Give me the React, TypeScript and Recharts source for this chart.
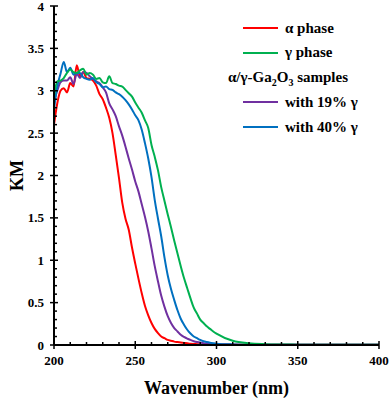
import React from 'react';
import { LineChart, Line, XAxis, YAxis, Legend } from 'recharts';

const wavelengths = [
  200, 202, 204, 206, 208, 210, 212, 214, 216, 218, 220, 222, 224, 226, 228, 230, 232, 234, 236, 238,
  240, 242, 244, 246, 248, 250, 252, 254, 256, 258, 260, 262, 264, 266, 268, 270, 272, 274, 276, 278,
  280, 282, 284, 286, 288, 290, 292, 294, 296, 298, 300, 310, 320, 330, 340, 350, 360, 370, 380, 390, 400,
];

const alphaPhase = [
  2.60, 2.85, 3.00, 3.03, 2.98, 3.09, 3.05, 3.30, 3.17, 3.22, 3.15, 3.14, 3.12, 3.06, 2.96, 2.90, 2.80, 2.68, 2.50, 2.24,
  1.97, 1.68, 1.49, 1.36, 1.15, 0.96, 0.78, 0.61, 0.46, 0.35, 0.26, 0.19, 0.14, 0.10, 0.08, 0.06, 0.05, 0.04, 0.035, 0.03,
  0.025, 0.02, 0.015, 0.012, 0.01, 0.008, 0.006, 0.005, 0.005, 0.005, 0.005, 0.004, 0.004, 0.004, 0.004, 0.004, 0.004, 0.004, 0.004, 0.004, 0.004,
];

const gammaPhase = [
  2.93, 3.11, 3.12, 3.15, 3.21, 3.25, 3.22, 3.21, 3.24, 3.26, 3.19, 3.21, 3.19, 3.14, 3.15, 3.10, 3.09, 3.17, 3.09, 3.08,
  3.06, 3.05, 3.01, 2.97, 2.93, 2.86, 2.80, 2.74, 2.65, 2.56, 2.36, 2.22, 2.06, 1.86, 1.70, 1.54, 1.39, 1.23, 1.08, 0.93,
  0.79, 0.67, 0.55, 0.44, 0.37, 0.30, 0.26, 0.22, 0.19, 0.16, 0.135, 0.05, 0.02, 0.01, 0.006, 0.004, 0.003, 0.003, 0.003, 0.003, 0.003,
];

const gamma19 = [
  2.88, 3.00, 3.10, 3.12, 3.12, 3.16, 3.08, 3.20, 3.15, 3.22, 3.21, 3.17, 3.14, 3.11, 3.09, 3.04, 2.98, 2.85, 2.78, 2.70,
  2.58, 2.47, 2.34, 2.20, 2.07, 1.93, 1.81, 1.66, 1.51, 1.34, 1.14, 0.93, 0.75, 0.58, 0.45, 0.34, 0.26, 0.20, 0.16, 0.12,
  0.095, 0.075, 0.06, 0.045, 0.035, 0.03, 0.022, 0.017, 0.013, 0.01, 0.008, 0.005, 0.003, 0.002, 0.002, 0.002, 0.002, 0.002, 0.002, 0.002, 0.002,
];

const gamma40 = [
  2.78, 3.05, 3.20, 3.34, 3.22, 3.27, 3.19, 3.21, 3.21, 3.16, 3.14, 3.13, 3.15, 3.10, 3.08, 3.04, 3.05, 3.02, 3.01, 2.98,
  2.96, 2.93, 2.89, 2.84, 2.78, 2.71, 2.65, 2.54, 2.38, 2.20, 1.98, 1.71, 1.49, 1.28, 1.03, 0.82, 0.66, 0.53, 0.41, 0.31,
  0.24, 0.18, 0.135, 0.10, 0.08, 0.06, 0.045, 0.035, 0.027, 0.021, 0.016, 0.007, 0.004, 0.003, 0.002, 0.002, 0.002, 0.002, 0.002, 0.002, 0.002,
];

const xTicks = [200, 210, 220, 230, 240, 250, 260, 270, 280, 290, 300, 310, 320, 330, 340, 350, 360, 370, 380, 390, 400];
const xLabelTicks = [200, 250, 300, 350, 400];
const yMinorTicks = Array.from({ length: 41 }, (_, i) => i / 10);
const yLabelTicks = [0, 0.5, 1, 1.5, 2, 2.5, 3, 3.5, 4];

const data = wavelengths.map((x, i) => ({
  x,
  alpha: alphaPhase[i],
  gamma: gammaPhase[i],
  g19: gamma19[i],
  g40: gamma40[i],
}));

const FONT = "'Liberation Serif', 'Times New Roman', serif";

const XTick = (props: any) => {
  const { x, y, payload } = props;
  const v = payload.value;
  const major = xLabelTicks.includes(v);
  return (
    <g>
      <line x1={x} x2={x} y1={y - (major ? 4 : 3)} y2={y + (major ? 4 : 0)} stroke="#000" strokeWidth={1.5} />
      {major && (
        <text x={x} y={y + 20} textAnchor="middle" fontFamily={FONT} fontWeight="bold" fontSize={13} fill="#000">
          {v}
        </text>
      )}
    </g>
  );
};

const YTick = (props: any) => {
  const { x, y, payload } = props;
  const v = payload.value;
  const major = yLabelTicks.some((t) => Math.abs(t - v) < 1e-6);
  return (
    <g>
      <line x1={x - (major ? 4 : 0)} x2={x + (major ? 4 : 3)} y1={y} y2={y} stroke="#000" strokeWidth={1.5} />
      {major && (
        <text x={x - 10} y={y + 4.5} textAnchor="end" fontFamily={FONT} fontWeight="bold" fontSize={13} fill="#000">
          {String(Number(v.toFixed(1)))}
        </text>
      )}
    </g>
  );
};

const seriesLegend = [
  { name: 'α phase', color: '#FF0000' },
  { name: 'γ phase', color: '#00B050' },
];
const sampleLegend = [
  { name: 'with 19% γ', color: '#7030A0' },
  { name: 'with 40% γ', color: '#0070C0' },
];

const LegendRow = ({ name, color }: { name: string; color: string }) => (
  <div style={{ height: 24.75, display: 'flex', alignItems: 'center', whiteSpace: 'nowrap' }}>
    <span style={{ display: 'inline-block', width: 35, height: 2, background: color, marginLeft: 15, marginRight: 7 }} />
    <span>{name}</span>
  </div>
);

const renderLegend = () => (
  <div style={{ fontFamily: FONT, fontWeight: 'bold', fontSize: 15, color: '#000', lineHeight: '24.75px' }}>
    {seriesLegend.map((s) => (
      <LegendRow key={s.name} {...s} />
    ))}
    <div style={{ height: 24.75, display: 'flex', alignItems: 'center', whiteSpace: 'nowrap' }}>
      <span>
        α/γ-Ga<sub style={{ fontSize: 10, lineHeight: 0 }}>2</sub>O<sub style={{ fontSize: 10, lineHeight: 0 }}>3</sub> samples
      </span>
    </div>
    {sampleLegend.map((s) => (
      <LegendRow key={s.name} {...s} />
    ))}
  </div>
);

export default function App() {
  return (
    <div style={{ position: 'absolute', left: 0, top: 0, width: 390, height: 398, background: '#fff' }}>
      <LineChart width={390} height={398} data={data} margin={{ top: 6, right: 11, bottom: 0, left: 0 }}>
        <XAxis
          dataKey="x"
          type="number"
          domain={[200, 400]}
          ticks={xTicks}
          interval={0}
          height={53}
          tickSize={0}
          tickMargin={0}
          tickLine={false}
          tick={<XTick />}
          axisLine={{ stroke: '#000', strokeWidth: 2 }}
          label={{
            content: () => (
              <text x={216.5} y={393.5} textAnchor="middle" fontFamily={FONT} fontWeight="bold" fontSize={18} fill="#000">
                Wavenumber (nm)
              </text>
            ),
          }}
        />
        <XAxis
          xAxisId="top"
          orientation="top"
          type="number"
          domain={[200, 400]}
          height={0}
          tick={false}
          tickLine={false}
          axisLine={{ stroke: '#404040', strokeWidth: 2 }}
        />
        <YAxis
          type="number"
          domain={[0, 4]}
          ticks={yMinorTicks}
          interval={0}
          width={54}
          tickSize={0}
          tickMargin={0}
          tickLine={false}
          tick={<YTick />}
          axisLine={{ stroke: '#000', strokeWidth: 2 }}
          label={{
            content: () => (
              <text
                transform="translate(23,175.5) rotate(-90)"
                textAnchor="middle"
                fontFamily={FONT}
                fontWeight="bold"
                fontSize={18}
                fill="#000"
              >
                KM
              </text>
            ),
          }}
        />
        <YAxis
          yAxisId="right"
          orientation="right"
          type="number"
          domain={[0, 4]}
          width={0}
          tick={false}
          tickLine={false}
          axisLine={{ stroke: '#404040', strokeWidth: 2 }}
        />
        <Legend
          layout="vertical"
          align="center"
          verticalAlign="middle"
          content={renderLegend}
          wrapperStyle={{ left: 228, top: 15.6, width: 'auto', height: 'auto' }}
        />
        <Line type="monotone" dataKey="alpha" name="α phase" stroke="#FF0000" strokeWidth={2} dot={false} isAnimationActive={false} />
        <Line type="monotone" dataKey="g19" name="with 19% γ" stroke="#7030A0" strokeWidth={2} dot={false} isAnimationActive={false} />
        <Line type="monotone" dataKey="g40" name="with 40% γ" stroke="#0070C0" strokeWidth={2} dot={false} isAnimationActive={false} />
        <Line type="monotone" dataKey="gamma" name="γ phase" stroke="#00B050" strokeWidth={2} dot={false} isAnimationActive={false} />
      </LineChart>
    </div>
  );
}
